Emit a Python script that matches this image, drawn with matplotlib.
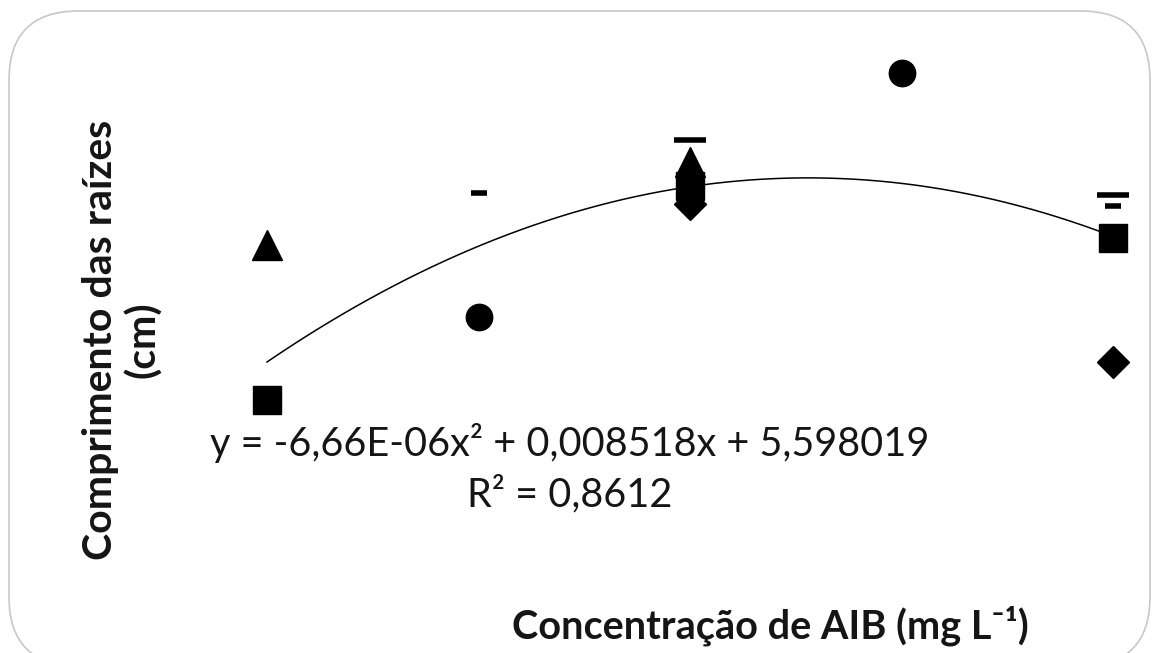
import numpy as np
import matplotlib
matplotlib.use("Agg")
import matplotlib.pyplot as plt
from matplotlib.patches import FancyBboxPatch

# concentrations (mg L-1)
conc = [0, 250, 500, 750, 1000]

# measured root length (cm), by marker; None = no point
triangle = [7.33, None, 8.55, None, None]
circle = [None, 6.26, 8.25, 9.87, None]
square = [5.04, None, 8.20, None, 7.43]
diamond = [None, None, 7.93, None, 5.60]

# error bar caps (only the caps show in the picture)
caps_wide_x = [500, 1000]
caps_wide_y = [8.88, 8.07]
caps_small_x = [250, 1000]
caps_small_y = [8.10, 7.91]

# quadratic fit
a, b, c = -6.66e-06, 0.008518, 5.598019
eq_text = "y = -6,66E-06x² + 0,008518x + 5,598019"
r2_text = "R² = 0,8612"

plt.rcParams['font.family'] = ['Lato', 'DejaVu Sans']

fig = plt.figure(figsize=(11.56, 6.53), dpi=100)
ax = fig.add_axes([0, 0, 1, 1])
ax.set_xlim(-315.6, 1050.8)
ax.set_ylim(1.293, 10.953)
ax.axis('off')


def pick(ys):
    xs = [x for x, y in zip(conc, ys) if y is not None]
    return xs, [y for y in ys if y is not None]


xs = np.linspace(0, 1000, 200)
ax.plot(xs, a * xs**2 + b * xs + c, color='black', lw=1.1, zorder=2)

ax.plot(caps_wide_x, caps_wide_y, ls='none', marker='_', ms=23, mew=4, color='black')
ax.plot(caps_small_x, caps_small_y, ls='none', marker='_', ms=11, mew=4, color='black')
ax.plot(*pick(circle), ls='none', marker='o', ms=19, color='black', zorder=3)
ax.plot(*pick(square), ls='none', marker='s', ms=20, color='black', zorder=3)
ax.plot(*pick(diamond), ls='none', marker='D', ms=16, color='black', zorder=3)
ax.plot(*pick(triangle), ls='none', marker='^', ms=21, color='black', zorder=3)

fig.text(570 / 1156, 1 - 443 / 653, eq_text, fontsize=28.5, ha='center', va='center', color='#151515')
fig.text(570 / 1156, 1 - 494 / 653, r2_text, fontsize=28.5, ha='center', va='center', color='#151515')
fig.text(770 / 1156, 1 - 626 / 653, "Concentração de AIB (mg L⁻¹)", fontsize=28.5,
         fontweight='bold', ha='center', va='center', color='#151515')
fig.text(122 / 1156, 1 - 340 / 653, "Comprimento das raízes\n(cm)", fontsize=29.5,
         fontweight='bold', ha='center', va='center', rotation=90, color='#151515',
         linespacing=1.15)

border = FancyBboxPatch((9 / 1156, -0.02), 1141 / 1156, 1.0 - 11 / 653 + 0.02,
                        boxstyle="round,pad=0,rounding_size=0.06",
                        transform=fig.transFigure, fill=False, ec='#c8c8c8', lw=1.2,
                        mutation_aspect=1156 / 653)
fig.patches.append(border)

fig.savefig("out.png", dpi=100)
